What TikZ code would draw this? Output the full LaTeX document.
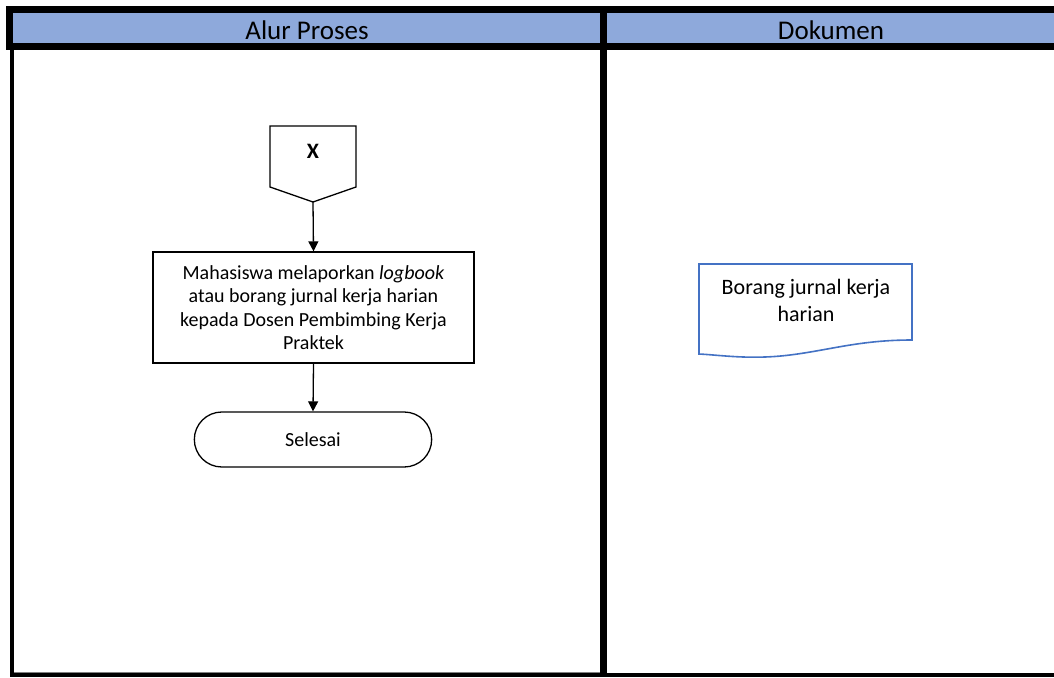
\documentclass[tikz,border=0pt]{standalone}
\usepackage{fontspec}
\setmainfont{Carlito}
\usetikzlibrary{arrows.meta,shapes.misc}
\definecolor{laneblue}{RGB}{142,169,219}
\definecolor{docblue}{RGB}{68,114,196}
\tikzset{
  lanehead/.style={font=\fontsize{27}{30}\selectfont, anchor=center},
  procbox/.style={draw, line width=1.3pt, rectangle, minimum width=321pt, minimum height=111pt,
    align=center, font=\fontsize{20}{23.5}\selectfont, inner sep=0pt},
  termbox/.style={draw, line width=1.3pt, rounded rectangle, minimum width=244pt, minimum height=55pt,
    font=\fontsize{20}{23}\selectfont},
  flowarrow/.style={draw, line width=1.3pt, -{Triangle[length=10pt,width=10pt]}},
  bar/.style={fill=black, draw=none}
}
\begin{document}
\begin{tikzpicture}[x=1pt,y=-1pt]
\useasboundingbox (0,0) rectangle (1054,677);
\fill[white] (0,0) rectangle (1054,677);

% lane headers
\fill[laneblue] (13,13) rectangle (600,44);
\fill[laneblue] (607,13) rectangle (1054,44);
\node[lanehead] (h1) at (307,30) {Alur Proses};
\node[lanehead] (h2) at (831,30) {Dokumen};

% lane frame
\path[bar] (6,6) rectangle (1054,13);
\path[bar] (6,43) rectangle (1054,50);
\path[bar] (6,6) rectangle (13,50);
\path[bar] (10,50) rectangle (14,677);
\path[bar] (600,6) rectangle (607,677);
\path[bar] (10,673) rectangle (1054,677);
\draw[gray, line width=1pt] (14,672) -- (600,672);

% off-page connector
\draw[line width=1.3pt] (270,126) -- (356,126) -- (356,187) -- (313,202) -- (270,187) -- cycle;
\node[font=\bfseries\fontsize{22}{24}\selectfont] (xcon) at (313,151) {X};
\coordinate (xtip) at (313,202);

% process step
\node[procbox] (proc) at (313.5,307.5) {Mahasiswa melaporkan \textit{logbook}\\atau borang jurnal kerja harian\\kepada Dosen Pembimbing Kerja\\Praktek};

% terminator
\node[termbox] (end) at (313,439.5) {Selesai};

\draw[flowarrow] (xtip) -- (proc.north);
\draw[flowarrow] (proc.south) -- (end.north);

% document
\draw[docblue, line width=1.6pt] (699,264) -- (912,264) -- (912,340)
  .. controls (860,340) and (830,350) .. (790,355)
  .. controls (750,360) and (720,355) .. (699,354) -- cycle;
\node[align=center, font=\fontsize{22}{27}\selectfont] (doc) at (806,300) {Borang jurnal kerja\\harian};
\end{tikzpicture}
\end{document}
